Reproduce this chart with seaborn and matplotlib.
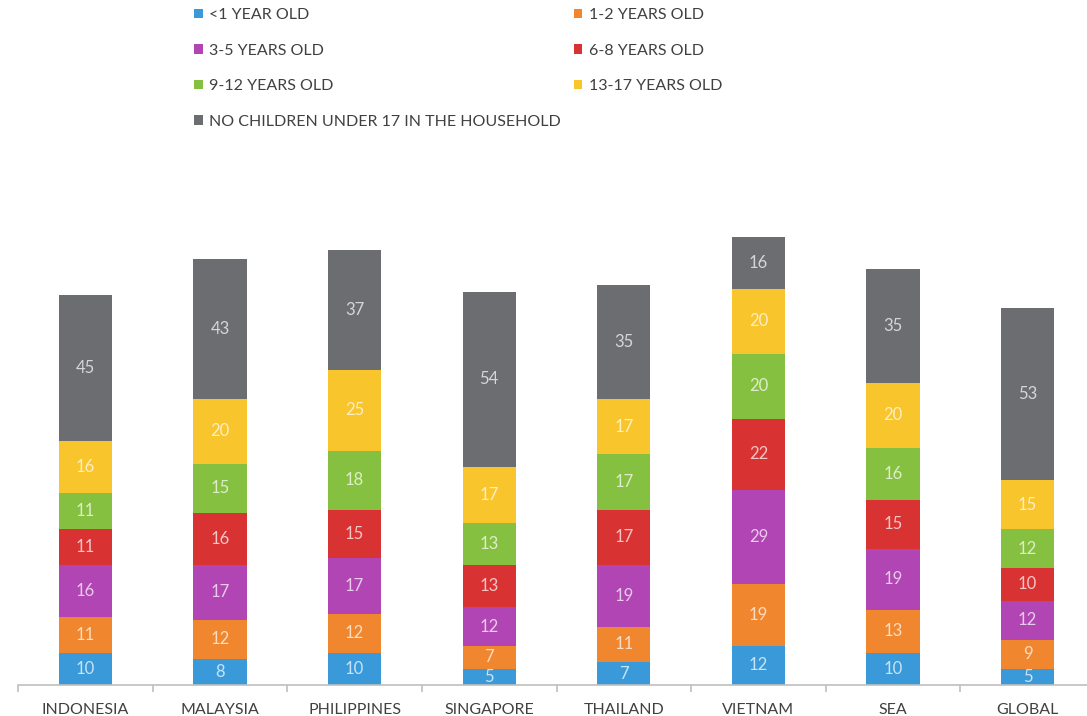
import numpy as np
import pandas as pd
import matplotlib
matplotlib.use("Agg")
import matplotlib.pyplot as plt
from matplotlib.patches import Patch
import matplotlib.colors as mcolors
import seaborn as sns

# Share of parents by age of children in the household (%)
countries = ["INDONESIA", "MALAYSIA", "PHILIPPINES", "SINGAPORE",
             "THAILAND", "VIETNAM", "SEA", "GLOBAL"]
age_groups = ["<1 YEAR OLD", "1-2 YEARS OLD", "3-5 YEARS OLD", "6-8 YEARS OLD",
              "9-12 YEARS OLD", "13-17 YEARS OLD",
              "NO CHILDREN UNDER 17 IN THE HOUSEHOLD"]
under_1 = [10, 8, 10, 5, 7, 12, 10, 5]
years_1_2 = [11, 12, 12, 7, 11, 19, 13, 9]
years_3_5 = [16, 17, 17, 12, 19, 29, 19, 12]
years_6_8 = [11, 16, 15, 13, 17, 22, 15, 10]
years_9_12 = [11, 15, 18, 13, 17, 20, 16, 12]
years_13_17 = [16, 20, 25, 17, 17, 20, 20, 15]
no_children = [45, 43, 37, 54, 35, 16, 35, 53]

series = [under_1, years_1_2, years_3_5, years_6_8,
          years_9_12, years_13_17, no_children]
colors = ["#3A9AD9", "#F0862E", "#B145B3", "#D93232",
          "#86C040", "#F9C52C", "#6B6D70"]

sns.set_theme(style="white")
plt.rcParams["font.family"] = ["Lato", "DejaVu Sans"]

fig = plt.figure(figsize=(10.87, 7.16), dpi=100)
# the category axis runs slightly past the right edge of the canvas
ax = fig.add_axes([18 / 1087, 31 / 716, 1077 / 1087, 455 / 716])

bottom = np.zeros(len(countries))
for name, vals, col in zip(age_groups, series, colors):
    df = pd.DataFrame({"country": countries, "value": vals})
    sns.barplot(data=df, x="country", y="value", bottom=bottom, color=col,
                width=0.395, saturation=1, ax=ax, errorbar=None,
                linewidth=0)
    # value labels in a pale tint of the segment colour
    tint = tuple(0.28 * np.array(mcolors.to_rgb(col)) + 0.72)
    for i, v in enumerate(vals):
        ax.text(i, bottom[i] + v / 2, f"{v}", ha="center", va="center",
                fontsize=12, color=tint)
    bottom = bottom + np.array(vals)

ax.set_xlim(-0.5, len(countries) - 0.5)
ax.set_ylim(0, 140)
ax.set_xlabel("")
ax.set_ylabel("")
ax.set_yticks([])
for s in ["top", "right", "left"]:
    ax.spines[s].set_visible(False)
ax.spines["bottom"].set_color("#BFBFBF")
ax.spines["bottom"].set_linewidth(1.2)

ax.set_xticks(np.arange(len(countries)))
ax.set_xticklabels(countries, fontsize=11.5, color="#404040")
ax.set_xticks(np.arange(-0.5, len(countries)), minor=True)
ax.tick_params(axis="x", which="major", length=0, pad=13)
ax.tick_params(axis="x", which="minor", length=5, width=1.2,
               color="#BFBFBF", bottom=True)

# legend: two columns filled row by row
order = [0, 2, 4, 6, 1, 3, 5]
handles = [Patch(facecolor=colors[k], edgecolor="none") for k in order]
labels = [age_groups[k] for k in order]
fig.legend(handles, labels, ncol=2, loc="upper left",
           bbox_to_anchor=(194 / 1087, 1 - 8 / 716), frameon=False,
           fontsize=11.5, labelcolor="#404040", handlelength=0.55,
           handleheight=0.55, handletextpad=0.4, labelspacing=1.35,
           columnspacing=0.8, borderpad=0, borderaxespad=0)

fig.savefig("out.png", dpi=100)
